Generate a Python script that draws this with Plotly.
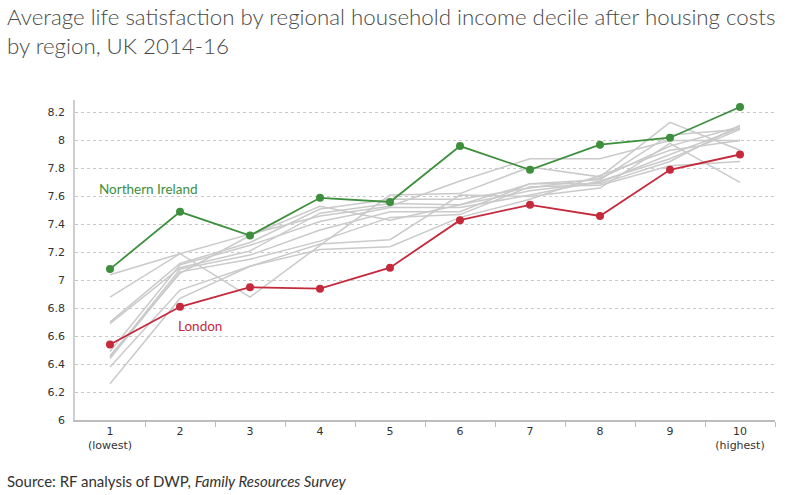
import plotly.graph_objects as go

deciles = [1, 2, 3, 4, 5, 6, 7, 8, 9, 10]
decile_labels = ["1<br>(lowest)", "2", "3", "4", "5", "6", "7", "8", "9", "10<br>(highest)"]

northern_ireland = [7.08, 7.49, 7.32, 7.59, 7.56, 7.96, 7.79, 7.97, 8.02, 8.24]
london = [6.54, 6.81, 6.95, 6.94, 7.09, 7.43, 7.54, 7.46, 7.79, 7.90]

other_regions = {
    "Region A": [7.04, 7.19, 7.33, 7.46, 7.53, 7.71, 7.87, 7.87, 8.00, 8.00],
    "Region B": [6.88, 7.19, 6.88, 7.25, 7.61, 7.62, 7.81, 7.74, 8.13, 7.93],
    "Region C": [6.70, 7.12, 7.27, 7.51, 7.58, 7.58, 7.66, 7.73, 7.96, 8.10],
    "Region D": [6.69, 7.09, 7.21, 7.48, 7.55, 7.54, 7.64, 7.70, 7.90, 8.09],
    "Region E": [6.49, 7.11, 7.25, 7.42, 7.52, 7.52, 7.61, 7.71, 7.87, 8.08],
    "Region F": [6.45, 7.08, 7.18, 7.36, 7.49, 7.49, 7.69, 7.69, 7.85, 8.11],
    "Region G": [6.44, 7.06, 7.15, 7.28, 7.45, 7.47, 7.67, 7.68, 7.82, 7.85],
    "Region H": [6.38, 6.93, 7.10, 7.26, 7.29, 7.61, 7.60, 7.66, 7.98, 7.70],
    "Region I": [6.26, 6.87, 7.10, 7.22, 7.24, 7.45, 7.58, 7.75, 7.93, 8.00],
    "Region J": [6.46, 7.05, 7.32, 7.53, 7.43, 7.54, 7.69, 7.72, 8.04, 8.08],
}

y_ticks = [6, 6.2, 6.4, 6.6, 6.8, 7, 7.2, 7.4, 7.6, 7.8, 8, 8.2]
y_tick_text = ["6", "6.2", "6.4", "6.6", "6.8", "7", "7.2", "7.4", "7.6", "7.8", "8", "8.2"]

title_text = ("Average life satisfaction by regional household income decile after housing costs"
              "<br>by region, UK 2014-16")
source_text = "Source: RF analysis of DWP, <i>Family Resources Survey</i>"

GREEN = "#3d8f3d"
RED = "#c42a3c"
GREY = "#cacaca"

fig = go.Figure()
for name, vals in other_regions.items():
    fig.add_trace(go.Scatter(x=deciles, y=vals, mode="lines", name=name,
                             line=dict(color=GREY, width=1.5), hoverinfo="skip"))

fig.add_trace(go.Scatter(x=deciles, y=northern_ireland, mode="lines+markers", name="Northern Ireland",
                         line=dict(color=GREEN, width=1.8), marker=dict(color=GREEN, size=8)))
fig.add_trace(go.Scatter(x=deciles, y=london, mode="lines+markers", name="London",
                         line=dict(color=RED, width=1.8), marker=dict(color=RED, size=8)))

fig.add_annotation(x=0.81, y=7.655, text="Northern Ireland", showarrow=False, xanchor="left",
                   font=dict(color=GREEN, size=13.5, family="Lato"))
fig.add_annotation(x=1.94, y=6.67, text="London", showarrow=False, xanchor="left",
                   font=dict(color=RED, size=13.5, family="Lato"))

# Title (as paper annotation so multi-line anchoring is exact)
fig.add_annotation(xref="paper", yref="paper", x=-0.1, y=1.31, xanchor="left", yanchor="top",
                   showarrow=False, align="left", text=title_text,
                   font=dict(size=22.3, color="#4a4a4a", family="Lato", weight=300))
# Source
fig.add_annotation(xref="paper", yref="paper", x=-0.1, y=-0.155, xanchor="left", yanchor="top",
                   showarrow=False, align="left", text=source_text,
                   font=dict(size=15, color="#333333", family="Lato"))

fig.update_layout(
    width=799, height=495,
    margin=dict(l=75, r=24, t=100, b=75),
    paper_bgcolor="white", plot_bgcolor="white",
    showlegend=False,
    font=dict(family="Lato", color="#333333"),
)

fig.update_xaxes(range=[0.5, 10.5], tickvals=deciles, ticktext=decile_labels,
                 showgrid=False, zeroline=False, ticks="",
                 showline=True, linecolor="#bdbdbd", linewidth=1.5,
                 tickfont=dict(size=11, color="#333333", family="DejaVu Sans"),
                 minor=dict(tickvals=[1.5, 2.5, 3.5, 4.5, 5.5, 6.5, 7.5, 8.5, 9.5, 10.5],
                            ticks="outside", ticklen=5, tickcolor="#bdbdbd", tickwidth=1, showgrid=False))
fig.update_yaxes(range=[6, 8.29], tickvals=y_ticks, ticktext=y_tick_text,
                 showgrid=True, gridcolor="#c8c8c8", griddash="dot", gridwidth=1,
                 zeroline=False, showline=True, linecolor="#cfcfcf", linewidth=1.5,
                 ticks="", ticklabelstandoff=6,
                 tickfont=dict(size=11, color="#333333", family="DejaVu Sans"))

fig.write_html("out.html", config={"displayModeBar": False},
               post_script="document.body.style.margin='0';")
